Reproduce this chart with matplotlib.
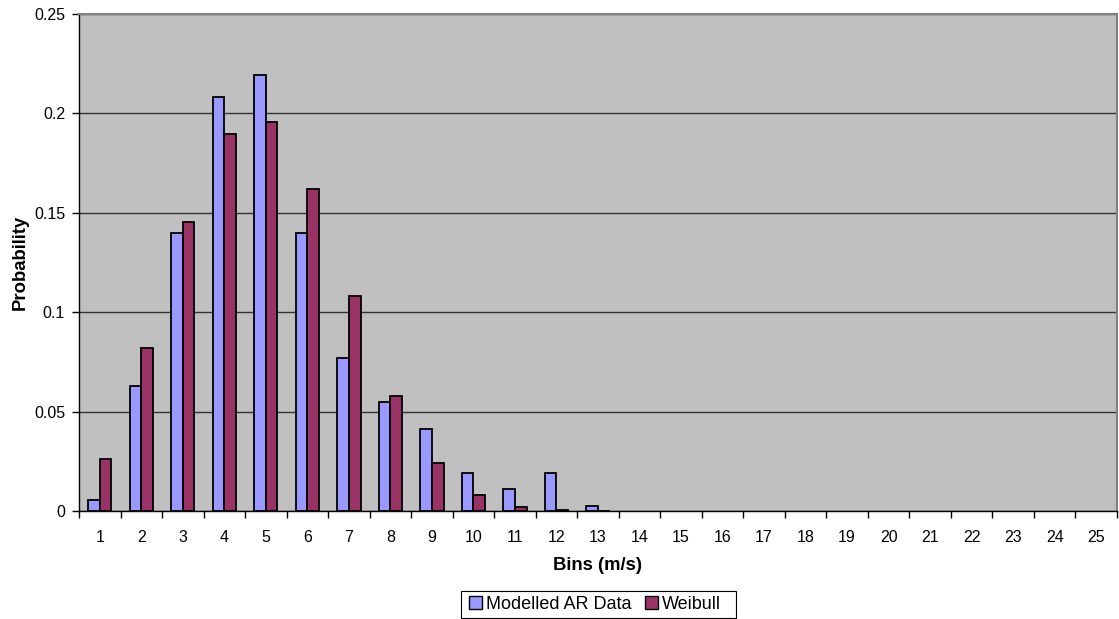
import matplotlib
matplotlib.use("Agg")
import matplotlib.pyplot as plt
from matplotlib.patches import Patch, Rectangle

plt.rcParams['font.family'] = ['Liberation Sans', 'DejaVu Sans']

bins = list(range(1, 26))
modelled_ar = [0.0055, 0.063, 0.1397, 0.2083, 0.2193, 0.1397, 0.0768, 0.055, 0.0412,
               0.0193, 0.0111, 0.0193, 0.0027, 0, 0, 0, 0, 0, 0, 0, 0, 0, 0, 0, 0]
weibull = [0.0262, 0.0818, 0.1455, 0.1898, 0.1957, 0.162, 0.108, 0.0577, 0.0243,
           0.0079, 0.0020, 0.0007, 0.0002, 0, 0, 0, 0, 0, 0, 0, 0, 0, 0, 0, 0]
y_ticks = [0, 0.05, 0.1, 0.15, 0.2, 0.25]
y_tick_labels = ["0", "0.05", "0.1", "0.15", "0.2", "0.25"]

W, H = 1119, 619
fig = plt.figure(figsize=(W / 100, H / 100), dpi=100)
ax = fig.add_axes([79 / W, (H - 511) / H, 1038 / W, 497 / H])
ax.set_facecolor('#C0C0C0')

bw = 0.28
xb = [b - bw / 2 for b in bins]
xr = [b + bw / 2 for b in bins]
# empty bins get no outline so nothing is drawn for them
lw_b = [1.3 if v > 0 else 0 for v in modelled_ar]
lw_r = [1.3 if v > 0 else 0 for v in weibull]
ax.bar(xb, modelled_ar, width=bw, color='#9999FF', edgecolor='black', linewidth=lw_b, zorder=3)
ax.bar(xr, weibull, width=bw, color='#993366', edgecolor='black', linewidth=lw_r, zorder=3)

ax.set_xlim(0.5, 25.5)
ax.set_ylim(0, 0.25)

ax.set_yticks(y_ticks)
ax.set_yticklabels(y_tick_labels)
ax.yaxis.grid(True, color='#333333', linewidth=1.0, zorder=1)
ax.set_axisbelow(True)

# category boundaries carry the tick marks, category centres carry the labels
ax.set_xticks([b - 0.5 for b in bins] + [bins[-1] + 0.5])
ax.set_xticklabels([])
ax.set_xticks(bins, minor=True)
ax.set_xticklabels([str(b) for b in bins], minor=True)
ax.tick_params(axis='x', which='major', length=5, width=1, color='black', direction='out')
ax.tick_params(axis='x', which='minor', length=0, pad=14, labelsize=11.5)
ax.tick_params(axis='y', length=5, width=1, direction='out', labelsize=11.5, pad=5)

for s in ['left', 'bottom']:
    ax.spines[s].set_color('black')
    ax.spines[s].set_linewidth(1.0)
for s in ['top', 'right']:
    ax.spines[s].set_color('#808080')
    ax.spines[s].set_linewidth(1.5)

fig.text(598 / W, 1 - 565 / H, 'Bins (m/s)', ha='center', va='center',
         fontsize=13.3, fontweight='bold')
fig.text(20 / W, 1 - 262 / H, 'Probability', ha='center', va='center',
         rotation=90, fontsize=13.3, fontweight='bold')

# legend box below the x label
fig.patches.append(Rectangle((461 / W, 1 - 618 / H), 275 / W, 27 / H,
                             transform=fig.transFigure, facecolor='white',
                             edgecolor='black', linewidth=0.8, zorder=1))
handles = [Patch(facecolor='#9999FF', edgecolor='black', label='Modelled AR Data'),
           Patch(facecolor='#993366', edgecolor='black', label='Weibull')]
leg = fig.legend(handles=handles, loc='center', bbox_to_anchor=(595 / W, 1 - 604.5 / H),
                 ncol=2, frameon=False, fontsize=13, handlelength=0.7, handleheight=0.7,
                 handletextpad=0.2, columnspacing=0.8, borderpad=0.0,
                 borderaxespad=0)
leg.set_zorder(2)

fig.savefig('out.png', dpi=100)
